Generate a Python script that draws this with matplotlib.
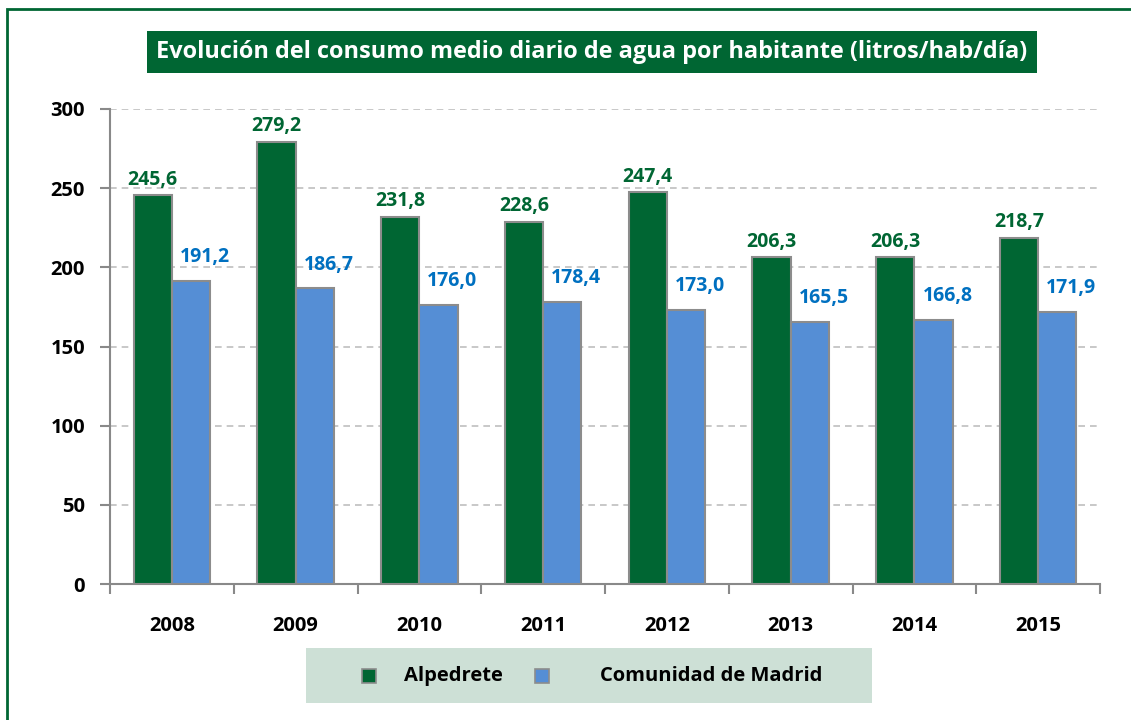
import numpy as np
import matplotlib.pyplot as plt
from matplotlib.patches import Rectangle

# --- Data ---
years = ["2008", "2009", "2010", "2011", "2012", "2013", "2014", "2015"]
alpedrete = [245.6, 279.2, 231.8, 228.6, 247.4, 206.3, 206.3, 218.7]
madrid = [191.2, 186.7, 176.0, 178.4, 173.0, 165.5, 166.8, 171.9]
series_names = ["Alpedrete", "Comunidad de Madrid"]

GREEN = '#006633'
BLUE = '#558ed5'
LBLUE = '#0070c0'
EDGE = '#8c8c8c'
FONT = ['Open Sans', 'DejaVu Sans']

plt.rcParams['font.family'] = FONT

W, H = 1131, 720
fig = plt.figure(figsize=(W / 100, H / 100), dpi=100)
fig.set_facecolor('white')

# outer green frame (runs off right and bottom)
fig.patches.append(Rectangle((7 / W, -0.05), 1.1, 1 - 8.5 / H - (-0.05),
                             transform=fig.transFigure, fill=False,
                             edgecolor=GREEN, lw=2))

# axes: x 110..1100, y 109..584
ax = fig.add_axes([110 / W, 1 - 584 / H, 990 / W, 475 / H])
x = np.arange(len(years))
bw = 0.31
ax.bar(x - bw / 2, alpedrete, bw, color=GREEN, edgecolor=EDGE, lw=1.5, zorder=3)
ax.bar(x + bw / 2, madrid, bw, color=BLUE, edgecolor=EDGE, lw=1.5, zorder=3)

for i in range(len(years)):
    ax.annotate(f"{alpedrete[i]:.1f}".replace('.', ','), (x[i] - bw / 2, alpedrete[i]),
                xytext=(0, 4), textcoords='offset points', ha='center', va='bottom',
                color=GREEN, fontsize=14, fontweight='bold')
    ax.annotate(f"{madrid[i]:.1f}".replace('.', ','), (x[i] + bw / 2, madrid[i]),
                xytext=(10, 10), textcoords='offset points', ha='center', va='bottom',
                color=LBLUE, fontsize=14, fontweight='bold')

ax.set_xlim(-0.5, len(years) - 0.5)
ax.set_ylim(0, 300)
ax.set_yticks(range(0, 301, 50))
ax.yaxis.grid(True, ls=(0, (4, 3)), color='#bfbfbf', lw=1.2, zorder=0)
ax.set_xticks(np.arange(-0.5, len(years), 1))
ax.set_xticks(x, minor=True)
ax.set_xticklabels([])
ax.set_xticklabels(years, minor=True)
ax.tick_params(axis='x', which='major', length=7, color='#898989', width=1.5, direction='out')
ax.tick_params(axis='x', which='minor', length=0, pad=23, labelsize=14.5)
ax.tick_params(axis='y', length=7, color='#898989', width=1.5, pad=11, labelsize=14.5)
for lab in ax.get_xticklabels(minor=True) + ax.get_yticklabels():
    lab.set_fontweight('bold')
for s in ['top', 'right']:
    ax.spines[s].set_visible(False)
for s in ['left', 'bottom']:
    ax.spines[s].set_color('#898989')
    ax.spines[s].set_linewidth(1.5)

# title box
fig.text(592 / W, 1 - 52 / H, "Evolución del consumo medio diario de agua por habitante (litros/hab/día)",
         ha='center', va='center', color='white', fontsize=16.9, fontweight='bold',
         bbox=dict(boxstyle='square,pad=0.4', facecolor=GREEN, edgecolor='none'))

# legend box
fig.patches.append(Rectangle((306 / W, 1 - 703 / H), 566 / W, 55 / H,
                             transform=fig.transFigure, facecolor='#cde0d6', edgecolor='none'))
ly = 1 - 676 / H
for xs, xt, c, name in [(369, 404, GREEN, series_names[0]), (542, 600, BLUE, series_names[1])]:
    fig.patches.append(Rectangle(((xs - 7) / W, ly - 7 / H), 14 / W, 14 / H,
                                 transform=fig.transFigure, facecolor=c, edgecolor=EDGE, lw=1.2))
    fig.text(xt / W, ly, name, ha='left', va='center', fontsize=14.5, fontweight='bold')

fig.savefig('out.png', dpi=100)
